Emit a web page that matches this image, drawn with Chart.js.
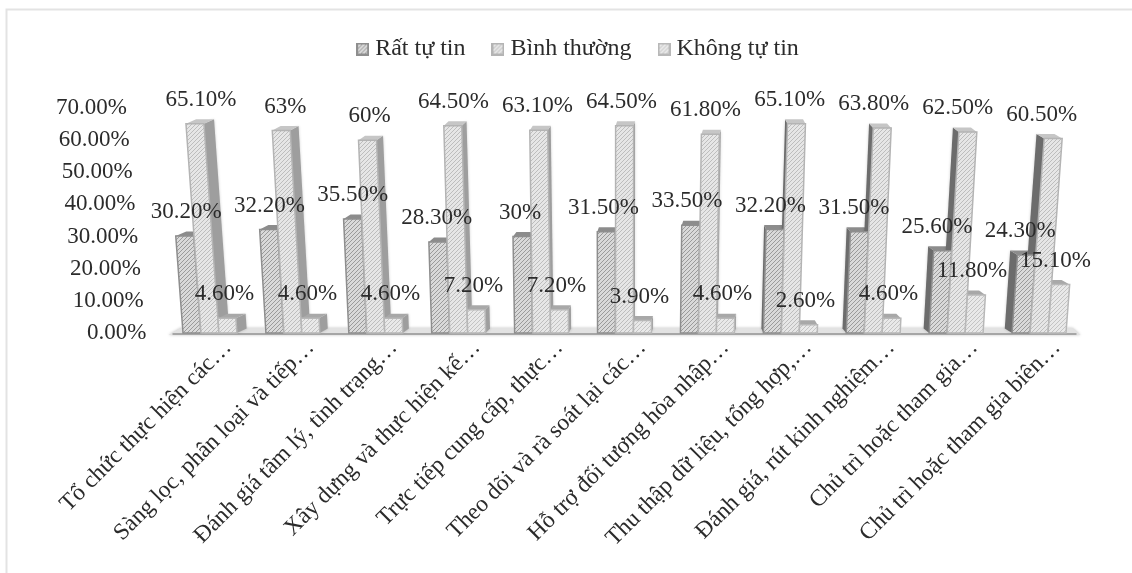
<!DOCTYPE html>
<html lang="vi">
<head>
<meta charset="utf-8">
<title>Mức độ tự tin</title>
<script src="https://cdn.jsdelivr.net/npm/chart.js@4"></script>
<style>
  html, body { margin: 0; padding: 0; background: #fff; }
  canvas { display: block; }
</style>
</head>
<body>
<canvas id="chartTuTin" width="1132" height="573"></canvas>
<script>
const categories = [
  "Tổ chức thực hiện các…",
  "Sàng lọc, phân loại và tiếp…",
  "Đánh giá tâm lý, tình trạng…",
  "Xây dựng và thực hiện kế…",
  "Trực tiếp cung cấp, thực…",
  "Theo dõi và rà soát lại các…",
  "Hỗ trợ đối tượng hòa nhập…",
  "Thu thập dữ liệu, tổng hợp,…",
  "Đánh giá, rút kinh nghiệm…",
  "Chủ trì hoặc tham gia…",
  "Chủ trì hoặc tham gia biên…"
];
const ratTuTin = [30.2, 32.2, 35.5, 28.3, 30, 31.5, 33.5, 32.2, 31.5, 25.6, 24.3];
const binhThuong = [65.1, 63, 60, 64.5, 63.1, 64.5, 61.8, 65.1, 63.8, 62.5, 60.5];
const khongTuTin = [4.6, 4.6, 4.6, 7.2, 7.2, 3.9, 4.6, 2.6, 4.6, 11.8, 15.1];

const FONT = '"Liberation Serif", "Times New Roman", serif';
const TEXT = "#2b2b2b";

// hatch tile for the bar fronts
function hatch(bg, line) {
  const c = document.createElement("canvas");
  c.width = 4;
  c.height = 4;
  const g = c.getContext("2d");
  g.fillStyle = bg;
  g.fillRect(0, 0, 4, 4);
  g.strokeStyle = line;
  g.lineWidth = 1;
  g.beginPath();
  g.moveTo(-1, 1); g.lineTo(1, -1);
  g.moveTo(-1, 5); g.lineTo(5, -1);
  g.moveTo(3, 5); g.lineTo(5, 3);
  g.stroke();
  return c;
}

// small legend swatch, same hatch with a border
function swatch(tile, edge) {
  const c = document.createElement("canvas");
  c.width = 13;
  c.height = 13;
  const g = c.getContext("2d");
  g.fillStyle = g.createPattern(tile, "repeat");
  g.fillRect(0, 0, 13, 13);
  g.strokeStyle = edge;
  g.lineWidth = 2;
  g.strokeRect(1, 1, 11, 11);
  return c;
}

const ctx = document.getElementById("chartTuTin");

const styles = [
  { tile: hatch("#d9d9d9", "#9a9a9a"), edge: "#8e8e8e", cap: "#8c8c8c" },
  { tile: hatch("#e6e6e6", "#bdbdbd"), edge: "#b4b4b4", cap: "#c6c6c6" },
  { tile: hatch("#e9e9e9", "#c4c4c4"), edge: "#b8b8b8", cap: "#a8a8a8" }
];

function percent(v) {
  return Number.isInteger(v) ? v + "%" : v.toFixed(2) + "%";
}

function poly(c, pts) {
  c.beginPath();
  pts.forEach((p, i) => (i ? c.lineTo(p[0], p[1]) : c.moveTo(p[0], p[1])));
  c.closePath();
}

// the 3D look: fronts lean away from the middle, sides and caps behind them
const bars3d = {
  id: "bars3d",
  afterLayout(chart) {
    chart.legend.left -= 44;
    chart.legend.right -= 44;
    chart.legend.top -= 37;
    chart.legend.bottom -= 37;
  },
  beforeDraw(chart) {
    const c = chart.ctx;
    c.save();
    c.strokeStyle = "#e3e3e3";
    c.lineWidth = 2;
    c.beginPath();
    c.moveTo(6.5, 573);
    c.lineTo(6.5, 9.5);
    c.lineTo(1132, 9.5);
    c.stroke();
    c.restore();
  },
  beforeDatasetsDraw(chart) {
    const c = chart.ctx;
    const xs = chart.scales.x;
    const base = chart.scales.y.getPixelForValue(0);

    // floor
    c.save();
    c.shadowColor = "rgba(0,0,0,0.25)";
    c.shadowBlur = 3;
    poly(c, [[xs.left + 12, base - 5], [xs.right - 8, base - 5], [xs.right, base + 2], [xs.left, base + 2]]);
    c.fillStyle = "#e2e2e2";
    c.fill();
    c.restore();
    c.fillStyle = "#a6a6a6";
    c.fillRect(xs.left + 4, base, xs.width - 8, 2);

    const leanCentre = xs.left + xs.width * 0.497;
    const sideCentre = xs.left + xs.width * 0.561;

    const metas = chart.data.datasets.map((d, i) => chart.getDatasetMeta(i));
    categories.forEach((name, i) => {
      const faces = metas.map((meta, s) => {
        const bar = meta.data[i];
        const half = bar.width / 2;
        const lean = (bar.x - leanCentre) * chart.data.datasets[s].data[i] * 0.00056;
        let dx = (sideCentre - bar.x) * 0.0215;
        if (Math.abs(dx) < 1.5) dx = 1.5;
        return { bar, half, lean, dx, dy: 4.5, s };
      });

      // side and cap first
      faces.forEach(f => {
        const { bar, half, lean, dx, dy } = f;
        const edgeBase = bar.x + (dx > 0 ? half : -half);
        const edgeTop = edgeBase + lean;
        c.save();
        c.shadowColor = "rgba(0,0,0,0.2)";
        c.shadowBlur = 3;
        poly(c, [[edgeBase, base], [edgeTop, bar.y], [edgeTop + dx, bar.y - dy], [edgeBase + dx, base - dy]]);
        c.fillStyle = dx > 0 ? "#9e9e9e" : "#6c6c6c";
        c.fill();
        c.restore();
        poly(c, [
          [bar.x - half + lean, bar.y],
          [bar.x + half + lean, bar.y],
          [bar.x + half + lean + dx, bar.y - dy],
          [bar.x - half + lean + dx, bar.y - dy]
        ]);
        c.fillStyle = styles[f.s].cap;
        c.fill();
      });

      // fronts on top
      faces.forEach(f => {
        const { bar, half, lean } = f;
        poly(c, [
          [bar.x - half, base],
          [bar.x + half, base],
          [bar.x + half + lean, bar.y],
          [bar.x - half + lean, bar.y]
        ]);
        c.fillStyle = c.createPattern(styles[f.s].tile, "repeat");
        c.fill();
        c.strokeStyle = styles[f.s].edge;
        c.lineWidth = 1.5;
        c.stroke();
      });
    });
  },
  beforeDatasetDraw() {
    return false;
  },
  afterDraw(chart) {
    const c = chart.ctx;
    const xs = chart.scales.x;
    const ys = chart.scales.y;
    const leanCentre = xs.left + xs.width * 0.497;
    c.save();
    c.fillStyle = TEXT;
    c.font = "23px " + FONT;
    c.textBaseline = "middle";

    // value axis labels step inwards going up
    c.textAlign = "right";
    ys.ticks.forEach(t => {
      c.fillText(t.value.toFixed(2) + "%", 146.5 - t.value * 0.279, ys.getPixelForValue(t.value));
    });

    c.textAlign = "center";
    chart.data.datasets.forEach((d, s) => {
      chart.getDatasetMeta(s).data.forEach((bar, i) => {
        const x = bar.x - 3 + (bar.x - leanCentre) * d.data[i] * 0.00022;
        c.fillText(percent(d.data[i]), x, bar.y - 24);
      });
    });
    c.restore();
  }
};

new Chart(ctx, {
  type: "bar",
  data: {
    labels: categories,
    datasets: [
      { label: "Rất tự tin", data: ratTuTin, backgroundColor: "#d9d9d9", pointStyle: swatch(styles[0].tile, "#8e8e8e") },
      { label: "Bình thường", data: binhThuong, backgroundColor: "#e6e6e6", pointStyle: swatch(styles[1].tile, "#b4b4b4") },
      { label: "Không tự tin", data: khongTuTin, backgroundColor: "#e9e9e9", pointStyle: swatch(styles[2].tile, "#b8b8b8") }
    ]
  },
  options: {
    responsive: false,
    animation: false,
    events: [],
    layout: { padding: { left: 168.5, right: 51.5, top: 42, bottom: 0 } },
    datasets: { bar: { barPercentage: 1, categoryPercentage: 0.65 } },
    plugins: {
      tooltip: { enabled: false },
      legend: {
        position: "top",
        labels: {
          usePointStyle: true,
          pointStyleWidth: 1,
          padding: 32,
          color: TEXT,
          font: { family: FONT, size: 24 }
        }
      }
    },
    scales: {
      x: {
        grid: { display: false },
        border: { display: false },
        afterFit: s => { s.height = 240; },
        ticks: {
          autoSkip: false,
          minRotation: 45,
          maxRotation: 45,
          labelOffset: 18,
          padding: -7,
          color: TEXT,
          font: { family: FONT, size: 23.5 }
        }
      },
      y: {
        min: 0,
        max: 70,
        grid: { display: false },
        border: { display: false },
        ticks: { display: false, stepSize: 10 },
        afterFit: s => { s.width = 0; }
      }
    }
  },
  plugins: [bars3d]
});
</script>
</body>
</html>
